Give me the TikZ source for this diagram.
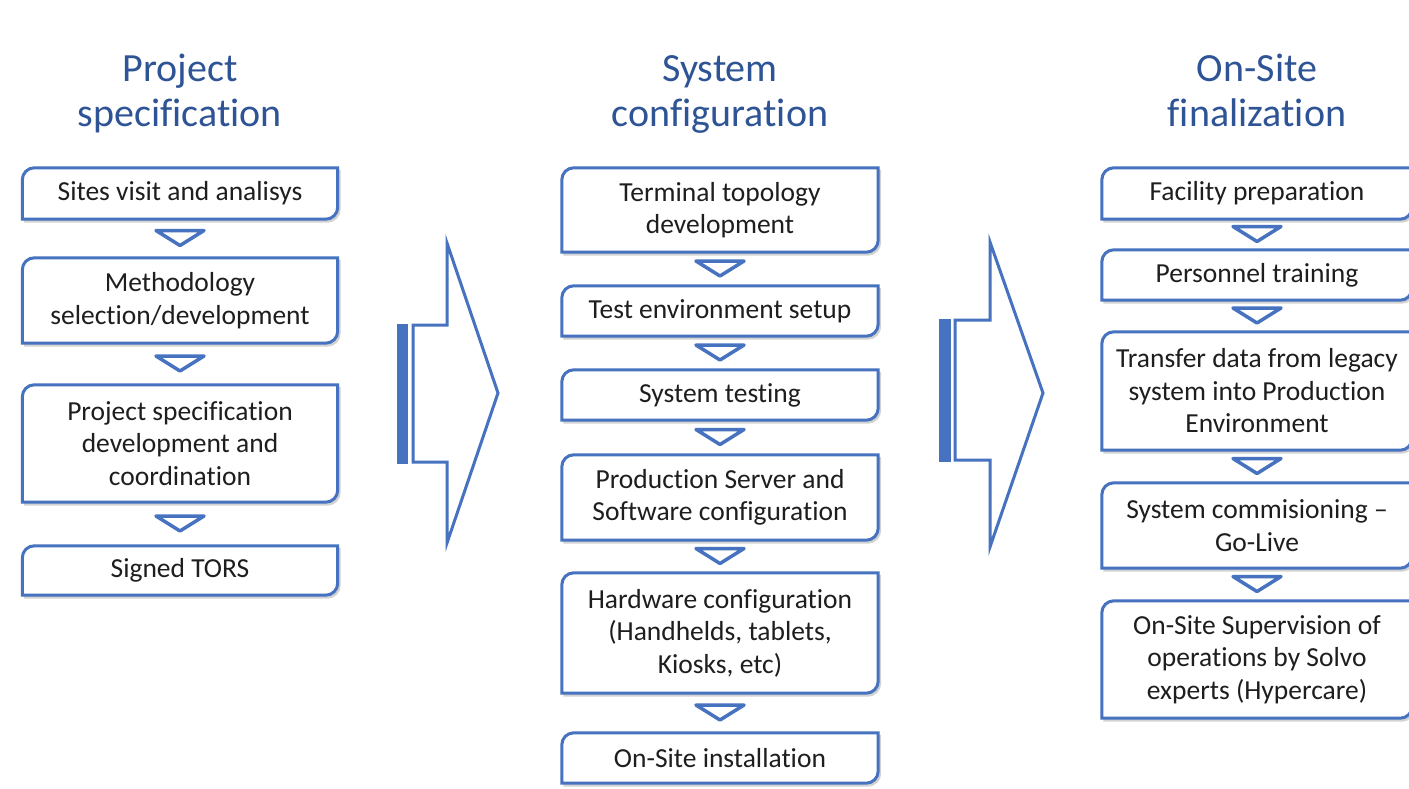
\documentclass[tikz,border=0pt]{standalone}
\usepackage{fontspec}
\setmainfont{Carlito}[Ligatures=NoCommon]
\usetikzlibrary{calc}
\definecolor{boxblue}{RGB}{70,114,192}
\definecolor{titleblue}{RGB}{46,84,150}
\definecolor{txtgray}{RGB}{30,30,30}
\newcommand\dgbox[1]{%
  \draw[shadowline] ([shift={(1.5,-2)}]#1.north east) -- ([shift={(1.5,10)}]#1.south east) arc[start angle=0,end angle=-90,radius=12pt] -- ([shift={(1.5,-2)}]#1.south west);
  \draw[boxline] (#1.north east) -- ([yshift=12pt]#1.south east) arc[start angle=0,end angle=-90,radius=12pt] -- (#1.south west) -- ([yshift=-12pt]#1.north west) arc[start angle=180,end angle=90,radius=12pt] -- cycle;}
\newcommand\dgtri[2]{%
  \coordinate (tm) at ($(#1.south)!0.5!(#2.north)$);
  \draw[triline] ($(tm)+(-24,8)$) -- ($(tm)+(24,8)$) -- ($(tm)+(0,-7)$) -- cycle;}
\begin{document}
\begin{tikzpicture}[x=1pt,y=1pt,
  boxline/.style={draw=boxblue, line width=3pt},
  shadowline/.style={draw=black!35, line width=3pt, opacity=0.5},
  triline/.style={draw=boxblue, line width=3.5pt, line join=round},
  stagebox/.style={rectangle, draw=none, inner sep=0pt, align=center, text=txtgray, font=\fontsize{27.5}{32.5}\selectfont},
  colA/.style={stagebox, minimum width=315pt},
  colB/.style={stagebox, minimum width=316pt},
  colC/.style={stagebox, minimum width=310pt},
  heading/.style={align=center, inner sep=0pt, anchor=north, text=titleblue, font=\fontsize{40}{45}\selectfont},
  bigarrow/.style={draw=boxblue, line width=3pt, line join=miter, fill=white}]
\clip (0,0) rectangle (1409,-788);
\fill[white] (0,0) rectangle (1409,-788);

% headings
\node[heading] (h1) at (180,-50) {\strut Project\\\strut specification};
\node[heading] (h2) at (720,-50) {\strut System\\\strut configuration};
\node[heading] (h3) at (1257,-50) {\strut On-Site\\\strut finalization};

% column 1
\node[colA, minimum height=51pt] (a1) at (180,-193.5) {Sites visit and analisys};
\node[colA, minimum height=85pt] (a2) at (180,-300.5) {Methodology\\selection/development};
\node[colA, minimum height=117pt] (a3) at (180,-443.5) {Project specification\\development and\\coordination};
\node[colA, minimum height=49pt] (a4) at (180,-570.5) {Signed TORS};
\foreach \n in {a1,a2,a3,a4} {\dgbox{\n}}
\dgtri{a1}{a2}\dgtri{a2}{a3}\dgtri{a3}{a4}

% column 2
\node[colB, minimum height=84pt] (b1) at (720,-210) {Terminal topology\\development};
\node[colB, minimum height=50pt] (b2) at (720,-311) {Test environment setup};
\node[colB, minimum height=50pt] (b3) at (720,-395) {System testing};
\node[colB, minimum height=85pt] (b4) at (720,-497.5) {Production Server and\\Software configuration};
\node[colB, minimum height=120pt] (b5) at (720,-633) {Hardware configuration\\(Handhelds, tablets,\\Kiosks, etc)};
\node[colB, minimum height=50pt] (b6) at (720,-758) {On-Site installation};
\foreach \n in {b1,b2,b3,b4,b5,b6} {\dgbox{\n}}
\dgtri{b1}{b2}\dgtri{b2}{b3}\dgtri{b3}{b4}\dgtri{b4}{b5}\dgtri{b5}{b6}

% column 3
\node[colC, minimum height=51pt] (c1) at (1257,-193.5) {Facility preparation};
\node[colC, minimum height=50pt] (c2) at (1257,-275) {Personnel training};
\node[colC, minimum height=118pt] (c3) at (1257,-391) {Transfer data from legacy\\system into Production\\Environment};
\node[colC, minimum height=85pt] (c4) at (1257,-525.5) {System commisioning –\\Go-Live};
\node[colC, minimum height=117pt] (c5) at (1257,-659.5) {On-Site Supervision of\\operations by Solvo\\experts (Hypercare)};
\foreach \n in {c1,c2,c3,c4,c5} {\dgbox{\n}}
\dgtri{c1}{c2}\dgtri{c2}{c3}\dgtri{c3}{c4}\dgtri{c4}{c5}

% big arrows
\draw[bigarrow] (413,-325) -- (447,-325) -- (447,-243) -- (498,-393) -- (447,-543) -- (447,-462) -- (413,-462) -- cycle;
\fill[boxblue] (397,-323.5) rectangle (408,-463.5);
\draw[bigarrow] (955,-320) -- (990,-320) -- (990,-242) -- (1043,-393) -- (990,-547) -- (990,-460) -- (955,-460) -- cycle;
\fill[boxblue] (939,-318.5) rectangle (951,-461.5);
\end{tikzpicture}
\end{document}
